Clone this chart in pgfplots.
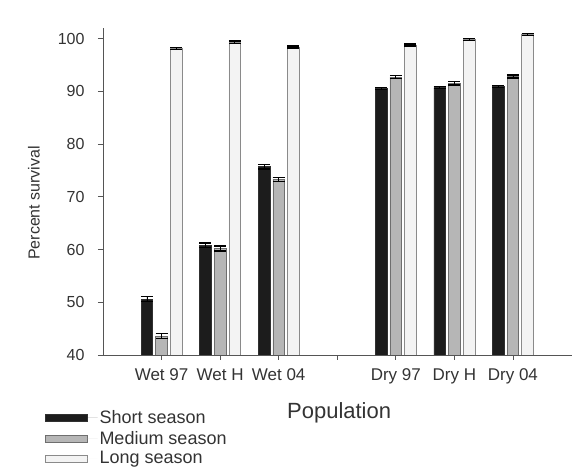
\documentclass[border=0pt]{standalone}
\usepackage{fontspec}
\setmainfont{Liberation Sans}
\usepackage{pgfplots}
\pgfplotsset{compat=1.18}
\definecolor{shortc}{HTML}{1C1C1C}
\definecolor{shortd}{HTML}{303030}
\definecolor{medc}{HTML}{B6B6B6}
\definecolor{medd}{HTML}{6E6E6E}
\definecolor{longc}{HTML}{F3F3F3}
\definecolor{longd}{HTML}{8A8A8A}
\definecolor{axc}{HTML}{555555}
\definecolor{txc}{HTML}{333333}
\begin{document}
\begin{tikzpicture}
\begin{axis}[
  at={(0,0)}, anchor=south west,
  scale only axis, width=468.5pt, height=327pt,
  xmin=-1, xmax=7, ymin=40, ymax=102,
  ybar, bar width=0.2,
  axis x line*=bottom, axis y line*=left,
  axis line style={axc, line width=0.8pt},
  xtick={0,1,2,3,4,5,6},
  xticklabels={Wet 97,Wet H,Wet 04,,Dry 97,Dry H,Dry 04},
  ytick={40,50,60,70,80,90,100},
  tick align=outside, major tick length=5pt,
  tick style={axc, line width=0.8pt},
  /pgf/number format/assume math mode=true,
  x tick label style={font=\fontsize{17}{20}\selectfont, text=txc, yshift=-5pt},
  y tick label style={font=\fontsize{16}{19}\selectfont, text=txc, xshift=-10pt},
  ylabel={Percent survival},
  ylabel style={font=\fontsize{16}{19}\selectfont, text=txc, at={(axis description cs:-0.1473,0.465)}, anchor=center},
  xlabel={Population},
  xlabel style={font=\fontsize{22}{26}\selectfont, text=txc, at={(axis description cs:0.504,-0.176)}, anchor=center},
  legend style={at={(axis description cs:-0.1238,-0.163)}, anchor=north west, draw=none, fill=none,
    font=\fontsize{18}{21}\selectfont, text=txc, row sep=2pt, inner sep=0pt},
  legend cell align=left,
  legend image code/.code={\draw[#1] (0pt,-3.5pt) rectangle (42pt,3.5pt); \path[draw=none] (0pt,0pt) -- (52pt,0pt);},
  error bars/y dir=both, error bars/y explicit,
  error bars/error bar style={black, line width=0.8pt},
  error bars/error mark options={rotate=90, black, mark size=6pt, line width=1.4pt},
]
\addplot[bar shift=-0.25, fill=shortc, draw=shortd, line width=0.6pt]
  coordinates {(0,50.6) +- (0,0.5) (1,60.8) +- (0,0.4) (2,75.7) +- (0,0.4)
               (4,90.5) +- (0,0.2) (5,90.7) +- (0,0.2) (6,90.9) +- (0,0.2)};
\addlegendentry{Short season}
\addplot[bar shift=0, fill=medc, draw=medd, line width=0.6pt]
  coordinates {(0,43.6) +- (0,0.5) (1,60.2) +- (0,0.5) (2,73.3) +- (0,0.4)
               (4,92.7) +- (0,0.3) (5,91.5) +- (0,0.3) (6,92.8) +- (0,0.3)};
\addlegendentry{Medium season}
\addplot[bar shift=0.25, fill=longc, draw=longd, line width=0.6pt]
  coordinates {(0,98.1) +- (0,0.2) (1,99.3) +- (0,0.2) (2,98.4) +- (0,0.2)
               (4,98.8) +- (0,0.2) (5,99.8) +- (0,0.2) (6,100.8) +- (0,0.2)};
\addlegendentry{Long season}
\end{axis}
\pgfresetboundingbox
\useasboundingbox (-103pt,-115pt) rectangle (485pt,355pt);
\end{tikzpicture}
\end{document}
